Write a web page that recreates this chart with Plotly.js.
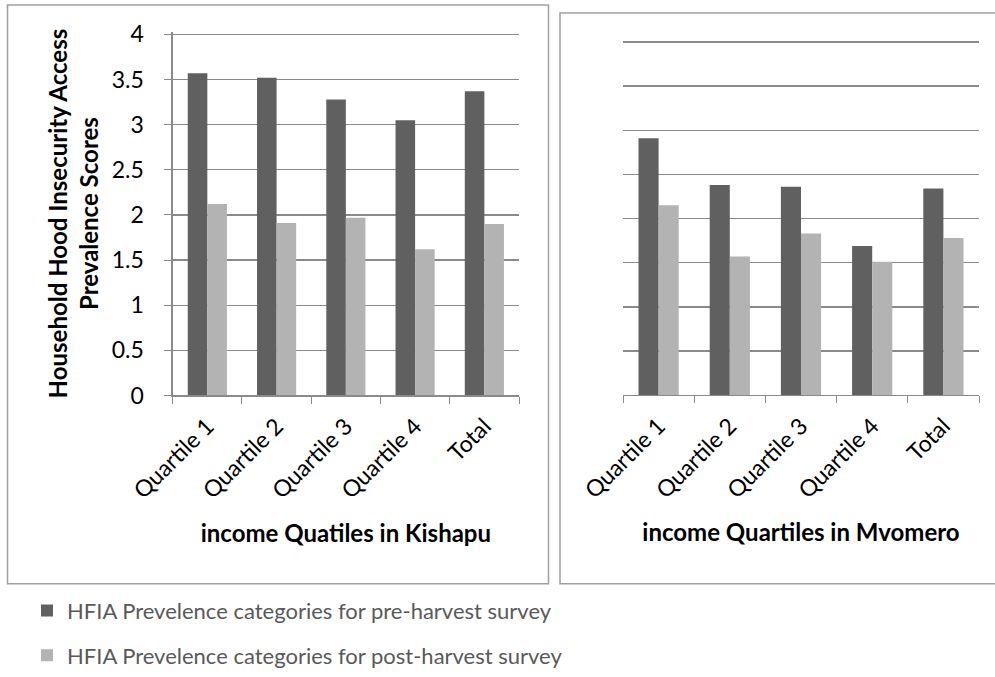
<!DOCTYPE html>
<html>
<head>
<meta charset="utf-8">
<script src="https://cdn.plot.ly/plotly-3.0.1.min.js"></script>
<style>html,body{margin:0;padding:0;background:#fff;}#chart{width:995px;height:677px;}</style>
</head>
<body>
<div id="chart"></div>
<script>
// Data
const categories = ["Quartile 1", "Quartile 2", "Quartile 3", "Quartile 4", "Total"];
const kishapuPre = [3.57, 3.52, 3.28, 3.05, 3.37];
const kishapuPost = [2.12, 1.91, 1.97, 1.62, 1.90];
const mvomeroPre = [2.91, 2.38, 2.36, 1.69, 2.34];
const mvomeroPost = [2.15, 1.57, 1.83, 1.51, 1.78];
const seriesNames = [
  "HFIA Prevelence categories for pre-harvest survey",
  "HFIA Prevelence categories for post-harvest survey"
];
const yTitle = "Household Hood Insecurity Access<br>Prevalence Scores";
const xTitleLeft = "income Quatiles in Kishapu";
const xTitleRight = "income Quartiles in Mvomero";

const DARK = "#606060", LIGHT = "#b3b3b3";
const FONT = "Lato, 'Noto Sans', sans-serif";
const W = 995, H = 677;
const px = v => v / W;
const py = v => 1 - v / H;
const YMAX = 4.03; // small headroom so the top gridline at 4 is drawn

const traces = [
  {type: "bar", x: categories, y: kishapuPre, name: seriesNames[0], marker: {color: DARK}, xaxis: "x", yaxis: "y", legendgroup: "a", hoverinfo: "y"},
  {type: "bar", x: categories, y: kishapuPost, name: seriesNames[1], marker: {color: LIGHT}, xaxis: "x", yaxis: "y", legendgroup: "b", hoverinfo: "y"},
  {type: "bar", x: categories, y: mvomeroPre, name: seriesNames[0], marker: {color: DARK}, xaxis: "x2", yaxis: "y2", legendgroup: "a", showlegend: false, hoverinfo: "y"},
  {type: "bar", x: categories, y: mvomeroPost, name: seriesNames[1], marker: {color: LIGHT}, xaxis: "x2", yaxis: "y2", legendgroup: "b", showlegend: false, hoverinfo: "y"}
];

const GRID = "#8a8a8a";
const TICKFONT = {family: FONT, size: 23, color: "#000"};
const TITLEFONT = {family: FONT, size: 24, color: "#000", weight: "bold"};
const xBase = {
  type: "category",
  tickangle: -45,
  ticks: "outside",
  tickson: "boundaries",
  ticklen: 7,
  tickcolor: GRID,
  ticklabelstandoff: 7,
  showline: true,
  linecolor: GRID,
  linewidth: 1.3,
  showgrid: false,
  tickfont: TICKFONT,
  automargin: false,
  fixedrange: true
};
const yBase = {
  range: [0, YMAX],
  dtick: 0.5,
  tick0: 0,
  showgrid: true,
  gridcolor: GRID,
  gridwidth: 1.3,
  zeroline: false,
  automargin: false,
  fixedrange: true
};

// plot-area pixel bounds (value 4 sits at the given top pixel)
const L = {x0: 172.7, x1: 519, y0: 399, y4: 34.7};
const R = {x0: 623, x1: 979, y0: 398.7, y4: 42.3};
const topPx = b => b.y0 - (b.y0 - b.y4) * YMAX / 4;

const layout = {
  width: W, height: H,
  margin: {l: 0, r: 0, t: 0, b: 0},
  paper_bgcolor: "#fff",
  plot_bgcolor: "rgba(0,0,0,0)",
  font: {family: FONT, color: "#000"},
  barmode: "group",
  bargap: 0.435,
  bargroupgap: 0,
  showlegend: true,
  legend: {
    x: px(27), y: py(595), xanchor: "left", yanchor: "top",
    orientation: "v",
    traceorder: "grouped",
    tracegroupgap: 13,
    font: {family: FONT, size: 22, color: "#595959"},
    bgcolor: "rgba(0,0,0,0)"
  },
  xaxis: Object.assign({}, xBase, {
    domain: [px(L.x0), px(L.x1)],
    anchor: "y",
    title: {text: xTitleLeft, font: TITLEFONT, standoff: 22}
  }),
  yaxis: Object.assign({}, yBase, {
    domain: [py(L.y0), py(topPx(L))],
    anchor: "x",
    showline: true,
    linecolor: GRID,
    linewidth: 1.3,
    ticks: "outside",
    ticklen: 7,
    tickcolor: GRID,
    ticklabelstandoff: 16,
    tickfont: TICKFONT,
    title: {text: yTitle, font: TITLEFONT, standoff: 6}
  }),
  xaxis2: Object.assign({}, xBase, {
    domain: [px(R.x0), px(R.x1)],
    anchor: "y2",
    title: {text: xTitleRight, font: TITLEFONT, standoff: 22}
  }),
  yaxis2: Object.assign({}, yBase, {
    domain: [py(R.y0), py(topPx(R))],
    anchor: "x2",
    showline: false,
    ticks: "",
    showticklabels: false
  }),
  shapes: [
    {type: "rect", xref: "paper", yref: "paper", x0: px(7.5), x1: px(548.5), y0: py(589), y1: py(5), line: {color: "#a0a0a0", width: 1.5}, fillcolor: "rgba(0,0,0,0)", layer: "below"},
    {type: "rect", xref: "paper", yref: "paper", x0: px(560), x1: px(1000), y0: py(589), y1: py(13), line: {color: "#a0a0a0", width: 1.5}, fillcolor: "rgba(0,0,0,0)", layer: "below"}
  ]
};

Plotly.newPlot("chart", traces, layout, {displayModeBar: false, staticPlot: true});
</script>
</body>
</html>
